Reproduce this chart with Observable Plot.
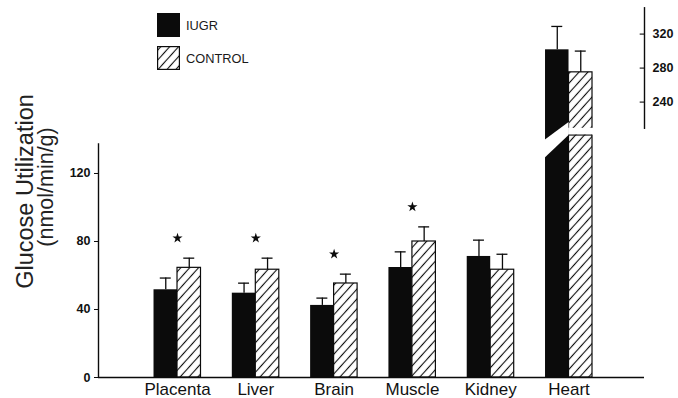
<!DOCTYPE html>
<html><head><meta charset="utf-8">
<script src="https://cdn.jsdelivr.net/npm/d3@7"></script>
<script src="https://cdn.jsdelivr.net/npm/@observablehq/plot@0.6"></script>
<style>
body{margin:0;background:#fff;}
#wrap{position:relative;width:678px;height:398px;overflow:hidden;font-family:"Liberation Sans",Arial,sans-serif;}
#legend{position:absolute;left:157px;top:13px;}
.row{display:flex;align-items:center;height:24px;margin-bottom:9px;}
.row span{margin-left:6px;font-size:12.8px;color:#1a1a1a;}
.box{width:23px;height:24px;display:block;}
</style></head><body><div id="wrap"><div id="legend"></div></div>
<script>
// ---- data ----
const categories = ["Placenta", "Liver", "Brain", "Muscle", "Kidney", "Heart"];
const series = ["IUGR", "CONTROL"];
const iugrMean = [51.6, 49.6, 42.4, 64.7, 71.2, 301.5];
const iugrSem = [6.9, 5.9, 4.3, 9.2, 9.6, 27.5];
const controlMean = [64.5, 63.4, 55.3, 80.0, 63.4, 275];
const controlSem = [5.7, 6.8, 5.5, 8.6, 9.1, 25];
const significant = [true, true, true, true, false, false];
const leftTicks = [0, 40, 80, 120];
const rightTicks = [240, 280, 320];
const rightAxisCategory = "Heart";
const yTitle = ["Glucose Utilization", "(nmol/min/g)"];

// ---- layout helpers ----
const X_MIN = -1.009, X_MAX = 5.964;
const Y_MAX = 221.76;
const RIGHT_ORIGIN = 182;             // plot units where 280 sits on the right axis
const toPlot = v => RIGHT_ORIGIN + (v - 280) * 0.5;
const fromPlot = p => Math.round((p - RIGHT_ORIGIN) * 2 + 280);
const BAR = 0.30, CAP = 0.07;

const rows = [];
categories.forEach((c, i) => {
  rows.push({cat: c, i, series: "IUGR", mean: iugrMean[i], sem: iugrSem[i]});
  rows.push({cat: c, i, series: "CONTROL", mean: controlMean[i], sem: controlSem[i]});
});
const onRight = d => d.cat === rightAxisCategory;
const yMean = d => onRight(d) ? toPlot(d.mean) : d.mean;
const yTop = d => onRight(d) ? toPlot(d.mean + d.sem) : d.mean + d.sem;
const bx1 = d => d.series === "IUGR" ? d.i - BAR : d.i;
const bx2 = d => d.series === "IUGR" ? d.i : d.i + BAR;
const bxc = d => (bx1(d) + bx2(d)) / 2;
const iugrRows = rows.filter(d => d.series === "IUGR");
const ctrlRows = rows.filter(d => d.series === "CONTROL");
const heartIdx = categories.indexOf(rightAxisCategory);
const starRows = categories.map((c, i) => ({i, top: Math.max(iugrMean[i] + iugrSem[i], controlMean[i] + controlSem[i])}))
  .filter((d, i) => significant[i]);

const BLACK = "#0b0b0b";
const plot = Plot.plot({
  width: 678, height: 398,
  marginLeft: 98, marginRight: 34, marginTop: 0, marginBottom: 21,
  x: {domain: [X_MIN, X_MAX]},
  y: {domain: [0, Y_MAX]},
  style: {fontFamily: "'Liberation Sans', Arial, sans-serif", background: "#fff", color: "#111", overflow: "visible"},
  marks: [
    Plot.rect(iugrRows, {x1: bx1, x2: bx2, y1: 0, y2: yMean, fill: BLACK}),
    Plot.rect(ctrlRows, {x1: bx1, x2: bx2, y1: 0, y2: yMean, fill: "url(#hatch)", stroke: BLACK, strokeWidth: 1.2}),
    // axis break through the Heart bars
    Plot.areaY([{x: heartIdx - BAR - 0.01, a: 128.8, b: 139.4}, {x: heartIdx, a: 142.4, b: 150}],
      {x: "x", y1: "a", y2: "b", fill: "white"}),
    Plot.rect([{}], {x1: heartIdx - 0.005, x2: heartIdx + BAR + 0.02, y1: 142.6, y2: 146.6, fill: "white"}),
    Plot.ruleY([{}], {y: 142.6, x1: heartIdx, x2: heartIdx + BAR, stroke: BLACK, strokeWidth: 1.1}),
    // error bars
    Plot.ruleX(rows, {x: bxc, y1: yMean, y2: yTop, stroke: BLACK, strokeWidth: 1.3}),
    Plot.ruleY(rows, {y: yTop, x1: d => bxc(d) - CAP, x2: d => bxc(d) + CAP, stroke: BLACK, strokeWidth: 1.3}),
    // significance stars
    Plot.dot(starRows, {x: "i", y: "top", dy: -20, symbol: "star", r: 3.2, fill: BLACK, stroke: "none"}),
    // axes lines
    Plot.ruleY([0], {stroke: BLACK, strokeWidth: 1.6}),
    Plot.ruleX([X_MIN], {y1: 0, y2: 137.5, stroke: BLACK, strokeWidth: 1.4}),
    Plot.ruleX([X_MAX], {y1: 145.9, y2: 217.6, stroke: BLACK, strokeWidth: 1.4}),
    Plot.ruleY(rightTicks, {y: toPlot, x1: X_MAX - 0.055, x2: X_MAX, stroke: BLACK, strokeWidth: 1.1}),
    Plot.axisY(leftTicks, {anchor: "left", tickSize: 4, tickPadding: 4, fontSize: 12.5, fontWeight: "bold", label: null, stroke: BLACK}),
    Plot.axisY(rightTicks.map(toPlot), {anchor: "right", tickSize: 0, tickPadding: 8, fontSize: 12.5, fontWeight: "bold", label: null, tickFormat: fromPlot}),
    Plot.axisX(d3.range(categories.length), {anchor: "bottom", tickSize: 0, tickPadding: 5.5, fontSize: 17, label: null, tickFormat: i => categories[i]}),
    // y title
    Plot.text([yTitle[0]], {frameAnchor: "left", text: d => d, rotate: -90, textAnchor: "middle", lineAnchor: "bottom", dx: -66, dy: 2.5, fontSize: 23.5, fill: "#222"}),
    Plot.text([yTitle[1]], {frameAnchor: "left", text: d => d, rotate: -90, textAnchor: "middle", lineAnchor: "bottom", dx: -46, dy: -2, fontSize: 21.5, fill: "#222", letterSpacing: "1.5px"})
  ]
});
d3.select(plot).insert("defs", ":first-child").html(
  `<pattern id="hatch" patternUnits="userSpaceOnUse" width="6.6" height="6.6" patternTransform="rotate(42)">
     <rect width="6.6" height="6.6" fill="white"/>
     <line x1="3.3" y1="0" x2="3.3" y2="6.6" stroke="${BLACK}" stroke-width="1.1"/>
   </pattern>`);
document.getElementById("wrap").prepend(plot);

// legend
const legend = document.getElementById("legend");
series.forEach((s, k) => {
  const row = document.createElement("div");
  row.className = "row";
  row.innerHTML = (k === 0
    ? `<svg class="box" width="23" height="24"><rect width="23" height="24" fill="${BLACK}"/></svg>`
    : `<svg class="box" width="23" height="24"><defs><pattern id="hatchL" patternUnits="userSpaceOnUse" width="6.6" height="6.6" patternTransform="rotate(42)"><rect width="6.6" height="6.6" fill="white"/><line x1="3.3" y1="0" x2="3.3" y2="6.6" stroke="${BLACK}" stroke-width="1.1"/></pattern></defs><rect x="0.6" y="0.6" width="21.8" height="22.8" fill="url(#hatchL)" stroke="${BLACK}" stroke-width="1.2"/></svg>`)
    + `<span>${s}</span>`;
  legend.appendChild(row);
});
</script></body></html>
